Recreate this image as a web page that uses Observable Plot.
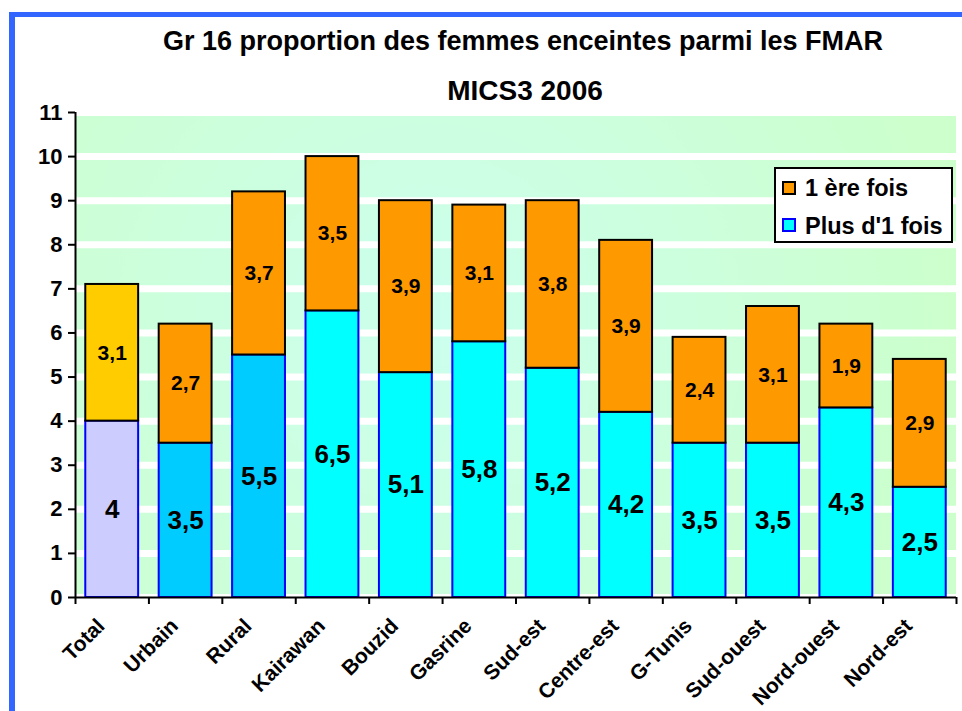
<!DOCTYPE html>
<html><head><meta charset="utf-8">
<script src="https://cdn.jsdelivr.net/npm/d3@7"></script>
<script src="https://cdn.jsdelivr.net/npm/@observablehq/plot@0.6"></script>
<style>
body{margin:0;background:#fff;font-family:"Liberation Sans",Arial,sans-serif;}
#wrap{position:relative;width:962px;height:711px;overflow:hidden;background:#fff;}
#chart{position:absolute;left:0;top:0;}
.t{position:absolute;font-weight:bold;white-space:nowrap;transform:translateX(-50%);line-height:1;color:#000;}
#frame{position:absolute;left:9px;top:12px;width:1000px;height:800px;border-left:6px solid #3366FF;border-top:5px solid #3366FF;pointer-events:none;}
#legend{position:absolute;left:774px;top:167px;width:175px;height:72px;border:2px solid #000;background:#fff;}
.li{position:absolute;left:0;font-weight:bold;font-size:23.5px;line-height:1;white-space:nowrap;color:#000;}
.sw{position:absolute;width:10px;height:10px;border:2px solid #000;}
</style></head>
<body><div id="wrap">
<div id="chart"></div>
<div class="t" id="t1" style="left:523px;top:28px;font-size:27px;"></div>
<div class="t" id="t2" style="left:525px;top:77px;font-size:28px;"></div>
<div id="legend"></div>
<div id="frame"></div>
</div>
<script>
const title = "Gr 16 proportion des femmes enceintes parmi les FMAR";
const subtitle = "MICS3 2006";
const categories = ["Total","Urbain","Rural","Kairawan","Bouzid","Gasrine","Sud-est","Centre-est","G-Tunis","Sud-ouest","Nord-ouest","Nord-est"];
const plusUneFois = [4,3.5,5.5,6.5,5.1,5.8,5.2,4.2,3.5,3.5,4.3,2.5];
const premiereFois = [3.1,2.7,3.7,3.5,3.9,3.1,3.8,3.9,2.4,3.1,1.9,2.9];
const yTicks = [0,1,2,3,4,5,6,7,8,9,10,11];
const seriesNames = ["1 ère fois","Plus d'1 fois"];

document.getElementById("t1").textContent = title;
document.getElementById("t2").textContent = subtitle;

const W = 962, H = 711, mL = 75, mR = 6, mT = 112, mB = 114;
const step = (W - mL - mR) / categories.length;
const innerH = H - mT - mB;
const fmt = v => String(v).replace(".", ",");
const rows = categories.map((c, i) => ({cat: c, i, low: plusUneFois[i], high: premiereFois[i]}));
const bands = yTicks.slice(0, -1).map(v => ({y1: v, y2: v + 1}));
const lowFill = i => i === 0 ? "#CCCCFF" : i < 3 ? "#00CCFF" : "#00FFFF";
const highFill = i => i === 0 ? "#FFCC00" : "#FF9900";
const font = "Liberation Sans, Arial, sans-serif";

const chart = Plot.plot({
  width: W, height: H, marginLeft: mL, marginRight: mR, marginTop: mT, marginBottom: mB,
  style: {background: "transparent", fontFamily: font, fontWeight: "bold", color: "black"},
  x: {type: "band", domain: categories, paddingInner: 0.28, paddingOuter: 0.14, round: false, axis: null},
  y: {domain: [0, 11], axis: null},
  color: {type: "identity"},
  marks: [
    Plot.rect(bands, {y1: "y1", y2: "y2", fill: () => "url(#bgGrad)"}),
    Plot.ruleY(yTicks, {stroke: "white", strokeWidth: 7}),
    Plot.barY(rows, {x: "cat", y1: 0, y2: "low", fill: d => lowFill(d.i), stroke: "#0000FF", strokeWidth: 2}),
    Plot.barY(rows, {x: "cat", y1: "low", y2: d => d.low + d.high, fill: d => highFill(d.i), stroke: "black", strokeWidth: 2}),
    Plot.text(rows, {x: "cat", y: d => d.low / 2, text: d => fmt(d.low), fontSize: 26, fontWeight: "bold", fill: "black"}),
    Plot.text(rows, {x: "cat", y: d => d.low + d.high / 2, text: d => fmt(d.high), fontSize: 21, fontWeight: "bold", fill: "black"}),
    Plot.ruleY([0], {stroke: "black", strokeWidth: 2}),
    Plot.ruleX([categories[0]], {x: d => d, dx: -step / 2, stroke: "black", strokeWidth: 2}),
    Plot.ruleX(categories, {x: d => d, dx: -step / 2, insetTop: innerH, insetBottom: -7, stroke: "black", strokeWidth: 2}),
    Plot.ruleX([categories[categories.length - 1]], {x: d => d, dx: step / 2, insetTop: innerH, insetBottom: -7, stroke: "black", strokeWidth: 2}),
    Plot.axisY({ticks: yTicks, tickSize: 7, tickPadding: 6, fontSize: 22, fontWeight: "bold", stroke: "black", strokeWidth: 2, fill: "black", label: null}),
    Plot.text(categories, {x: d => d, frameAnchor: "bottom", rotate: -45, textAnchor: "end", lineAnchor: "middle", dx: -11, dy: 25, fontSize: 21, fontWeight: "bold", fill: "black"})
  ]
});

const svg = d3.select(chart);
svg.selectAll('g[aria-label="y-axis tick label"]').attr("font-size", 22).attr("font-weight", "bold");
const defs = svg.insert("defs", ":first-child");
const g = defs.append("radialGradient").attr("id", "bgGrad").attr("gradientUnits", "userSpaceOnUse")
  .attr("cx", 430).attr("cy", 330).attr("r", 520);
g.append("stop").attr("offset", "0%").attr("stop-color", "#CCFFEE");
g.append("stop").attr("offset", "100%").attr("stop-color", "#CCFFCC");
document.getElementById("chart").appendChild(chart);

const legend = document.getElementById("legend");
const items = [
  {name: seriesNames[0], fill: "#FF9900", stroke: "#000", top: 8, swTop: 12},
  {name: seriesNames[1], fill: "#00FFFF", stroke: "#0000FF", top: 46, swTop: 49}
];
items.forEach(it => {
  const sw = document.createElement("div");
  sw.className = "sw";
  sw.style.left = "6px"; sw.style.top = it.swTop + "px";
  sw.style.background = it.fill; sw.style.borderColor = it.stroke;
  legend.appendChild(sw);
  const t = document.createElement("div");
  t.className = "li";
  t.style.left = "29px"; t.style.top = it.top + "px";
  t.textContent = it.name;
  legend.appendChild(t);
});
</script>
</body></html>
